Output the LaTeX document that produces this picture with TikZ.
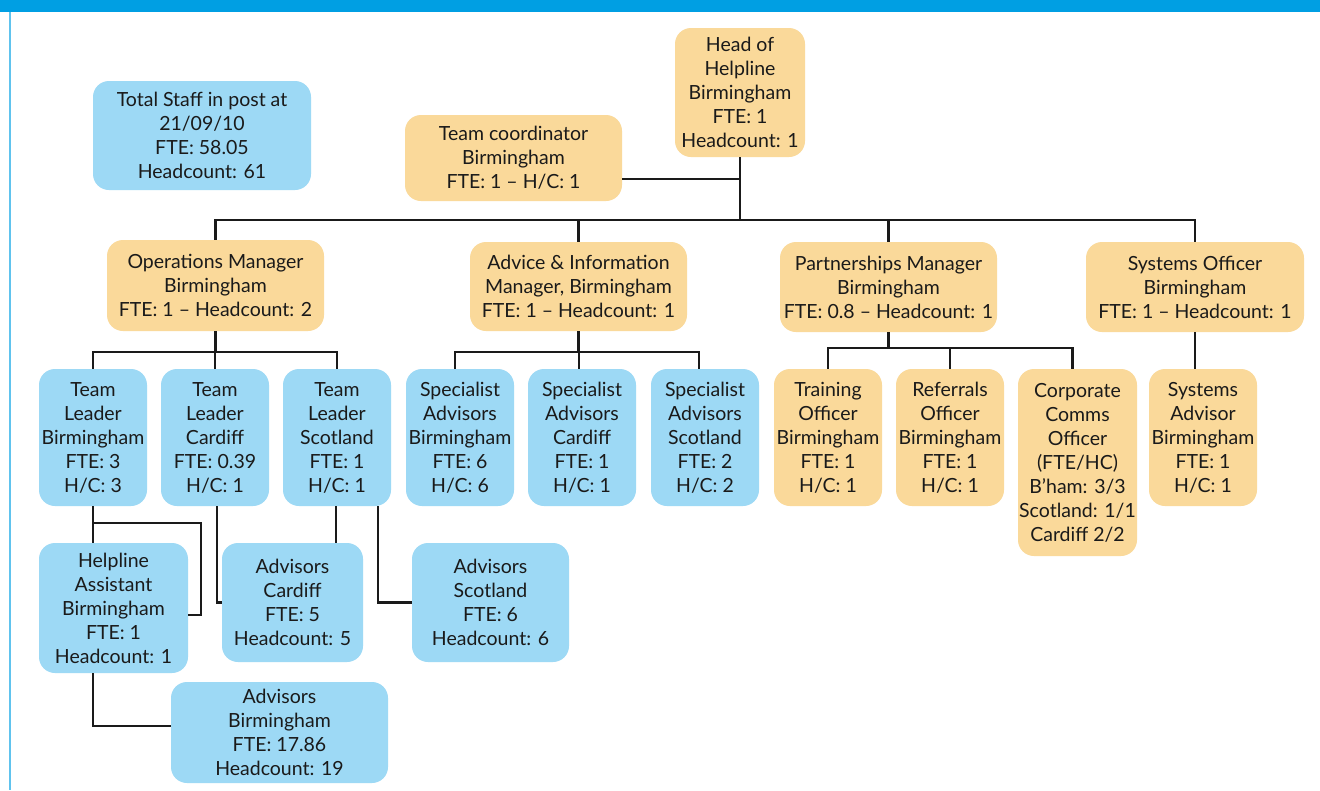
\documentclass[tikz,border=0pt]{standalone}
\usepackage{fontspec}
\setmainfont{Lato}
\definecolor{orangefill}{HTML}{FAD99A}
\definecolor{bluefill}{HTML}{9DD9F5}
\definecolor{bandblue}{HTML}{009FE3}
\definecolor{edgeblue}{HTML}{60C3EE}
\definecolor{ink}{HTML}{1A1A1A}
\begin{document}
\begin{tikzpicture}[x=1pt,y=-1pt,
  box/.style={rounded corners=16pt, inner sep=0pt, align=center,
    font=\fontsize{19.5}{24}\selectfont, text=ink},
  obox/.style={box, fill=orangefill},
  bbox/.style={box, fill=bluefill},
  rowbox/.style={minimum width=108pt, minimum height=137pt},
  link/.style={line width=2.6pt, draw=ink}]
\useasboundingbox (0,0) rectangle (1320,790);
\fill[white] (0,0) rectangle (1320,790);

% header band and side rule
\fill[bandblue] (0,0) rectangle (1320,12);
\draw[edgeblue, line width=2pt] (10,12) -- (10,790);

% summary and top level
\node[bbox, minimum width=218pt, minimum height=109pt] (total) at (202,135.5)
  {Total Staff in post at\\21/09/10\\FTE: 58.05\\Headcount: 61};
\node[obox, minimum width=217pt, minimum height=86pt] (coord) at (513.5,158)
  {Team coordinator\\Birmingham\\FTE: 1 -- H/C: 1};
\node[obox, minimum width=130pt, minimum height=129pt] (head) at (740,92.5)
  {Head of\\Helpline\\Birmingham\\FTE: 1\\Headcount: 1};

% managers
\node[obox, minimum width=217pt, minimum height=91pt] (ops) at (215.5,285.5)
  {Operations Manager\\Birmingham\\FTE: 1 -- Headcount: 2};
\node[obox, minimum width=217pt, minimum height=89pt] (adv) at (578.5,286.5)
  {Advice \& Information\\Manager, Birmingham\\FTE: 1 -- Headcount: 1};
\node[obox, minimum width=217pt, minimum height=90pt] (part) at (888.5,287)
  {Partnerships Manager\\Birmingham\\FTE: 0.8 -- Headcount: 1};
\node[obox, minimum width=218pt, minimum height=90pt] (sys) at (1195,287)
  {Systems Officer\\Birmingham\\FTE: 1 -- Headcount: 1};

% third row
\node[bbox, rowbox] (tlb) at (93,437.5) {Team\\Leader\\Birmingham\\FTE: 3\\H/C: 3};
\node[bbox, rowbox] (tlc) at (215,437.5) {Team\\Leader\\Cardiff\\FTE: 0.39\\H/C: 1};
\node[bbox, rowbox] (tls) at (337,437.5) {Team\\Leader\\Scotland\\FTE: 1\\H/C: 1};
\node[bbox, rowbox] (spb) at (460,437.5) {Specialist\\Advisors\\Birmingham\\FTE: 6\\H/C: 6};
\node[bbox, rowbox] (spc) at (582,437.5) {Specialist\\Advisors\\Cardiff\\FTE: 1\\H/C: 1};
\node[bbox, rowbox] (sps) at (705,437.5) {Specialist\\Advisors\\Scotland\\FTE: 2\\H/C: 2};
\node[obox, rowbox] (tro) at (828,437.5) {Training\\Officer\\Birmingham\\FTE: 1\\H/C: 1};
\node[obox, rowbox] (ref) at (950,437.5) {Referrals\\Officer\\Birmingham\\FTE: 1\\H/C: 1};
\node[obox, minimum width=119pt, minimum height=187pt] (corp) at (1077.5,462.5)
  {Corporate\\Comms\\Officer\\(FTE/HC)\\B’ham: 3/3\\Scotland: 1/1\\Cardiff 2/2};
\node[obox, rowbox] (sadv) at (1203,437.5) {Systems\\Advisor\\Birmingham\\FTE: 1\\H/C: 1};

% advisor teams
\node[bbox, minimum width=149pt, minimum height=130pt] (help) at (113.5,608)
  {Helpline\\Assistant\\Birmingham\\FTE: 1\\Headcount: 1};
\node[bbox, minimum width=141pt, minimum height=119pt] (advc) at (292.5,602.5)
  {Advisors\\Cardiff\\FTE: 5\\Headcount: 5};
\node[bbox, minimum width=157pt, minimum height=119pt] (advs) at (490.5,602.5)
  {Advisors\\Scotland\\FTE: 6\\Headcount: 6};
\node[bbox, minimum width=217pt, minimum height=101pt] (advb) at (279.5,732.5)
  {Advisors\\Birmingham\\FTE: 17.86\\Headcount: 19};

% bus levels
\coordinate (topbus) at (0,220);
\coordinate (opsbus) at (0,352);
\coordinate (advbus) at (0,352);
\coordinate (partbus) at (0,348);

% head to managers
\draw[link] (head.south) -- (head.south |- topbus);
\draw[link] ([yshift=-21pt]coord.east) -- ([yshift=-21pt]coord.east -| head.south);
\draw[link] (ops.north) -- (ops.north |- topbus) -- (sys.north |- topbus) -- (sys.north);
\draw[link] (adv.north) -- (adv.north |- topbus);
\draw[link] (part.north) -- (part.north |- topbus);

% operations manager to team leaders
\draw[link] (ops.south) -- (ops.south |- opsbus);
\draw[link] (tlb.north) -- (tlb.north |- opsbus) -- (tls.north |- opsbus) -- (tls.north);
\draw[link] (tlc.north) -- (tlc.north |- opsbus);

% advice manager to specialists
\draw[link] (adv.south) -- (adv.south |- advbus);
\draw[link] ([xshift=-5pt]spb.north) -- ([xshift=-5pt]spb.north |- advbus)
  -- ([xshift=-6pt]sps.north |- advbus) -- ([xshift=-6pt]sps.north);
\draw[link] ([xshift=-3pt]spc.north) -- ([xshift=-3pt]spc.north |- advbus);

% partnerships manager to officers
\draw[link] (part.south) -- (part.south |- partbus);
\draw[link] (tro.north) -- (tro.north |- partbus)
  -- ([xshift=-5pt]corp.north |- partbus) -- ([xshift=-5pt]corp.north);
\draw[link] (ref.north) -- (ref.north |- partbus);

% systems officer to advisor
\draw[link] (sys.south) -- (sys.south |- sadv.north);

% team leaders to advisor teams
\coordinate (hbend) at (201,615);
\draw[link] (tlb.south) -- (tlb.south |- help.north);
\draw[link] (tlb.south |- 0,523) -| (hbend) -- (hbend -| help.east);
\draw[link] (tlb.south |- help.south) -- (tlb.south |- 0,726) -- ([yshift=6.5pt]advb.west);
\draw[link] ([xshift=2pt]tlc.south) |- (advc.west);
\draw[link] ([xshift=-1pt]tls.south) -- ([xshift=-1pt]tls.south |- advc.north);
\draw[link] ([xshift=41pt]tls.south) |- (advs.west);
\end{tikzpicture}
\end{document}
